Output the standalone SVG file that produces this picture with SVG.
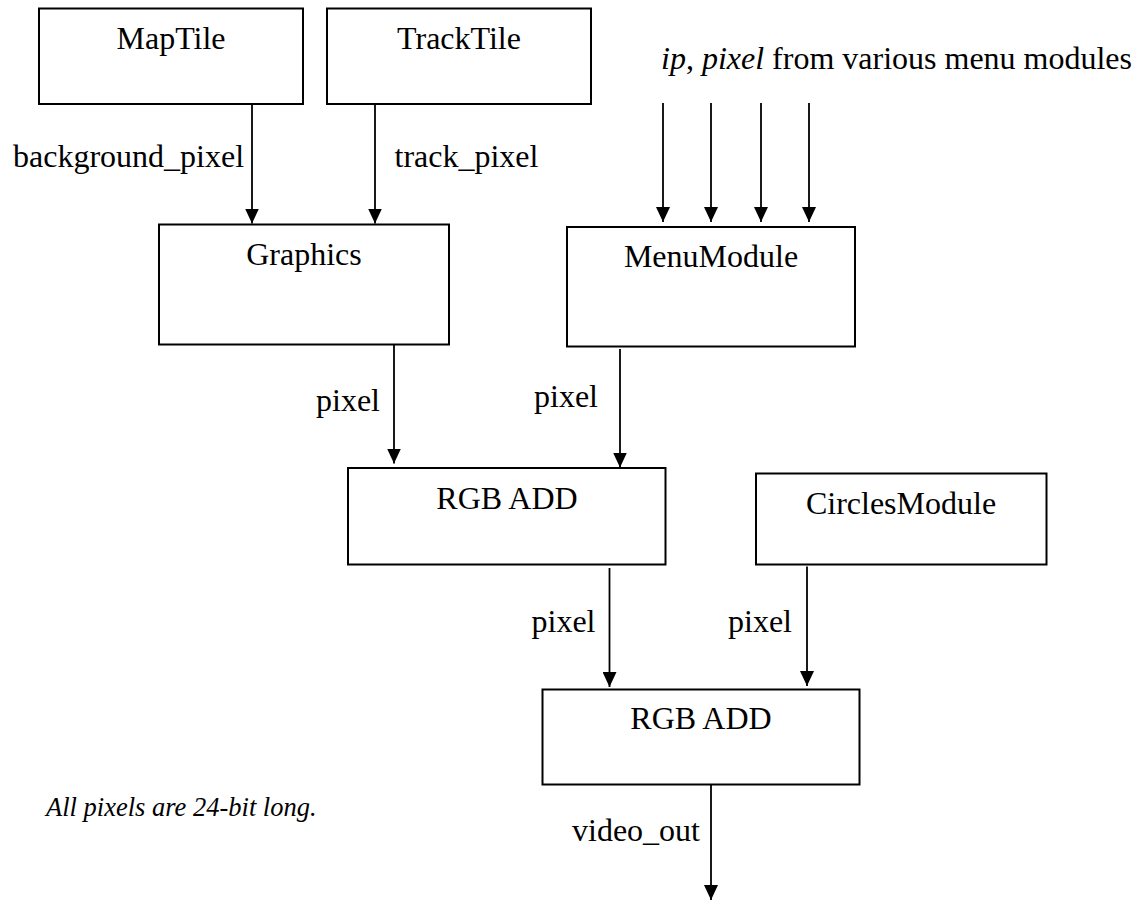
<svg xmlns="http://www.w3.org/2000/svg" width="1136" height="900" viewBox="0 0 1136 900">
<style>
.box{fill:#fff;stroke:#000;stroke-width:2}
.t{font-family:"Liberation Serif","Times New Roman",serif;font-size:32px;fill:#000}
.c{text-anchor:middle}
.it{font-style:italic}
.ln{stroke:#000;stroke-width:1.8;fill:none;marker-end:url(#ah)}
</style>
<defs>
<marker id="ah" markerUnits="userSpaceOnUse" markerWidth="15" markerHeight="14" refX="15" refY="7" orient="auto">
<path d="M0,0 L15,7 L0,14 z" fill="#000"/>
</marker>
</defs>
<rect width="1136" height="900" fill="#fff"/>
<g id="maptile"><rect class="box" x="39" y="8.5" width="264" height="95.5"/><text class="t c" x="171" y="48.5">MapTile</text></g>
<g id="tracktile"><rect class="box" x="327" y="8.5" width="264" height="95.5"/><text class="t c" x="459" y="48.5">TrackTile</text></g>
<g id="graphics"><rect class="box" x="159" y="224.5" width="290" height="120"/><text class="t c" x="304" y="265">Graphics</text></g>
<g id="menumodule"><rect class="box" x="567" y="227" width="288" height="119.5"/><text class="t c" x="711" y="267">MenuModule</text></g>
<g id="rgbadd1"><rect class="box" x="348" y="468" width="317.5" height="96.5"/><text class="t c" x="507" y="508.5">RGB ADD</text></g>
<g id="circlesmodule"><rect class="box" x="756" y="473.5" width="290.5" height="91"/><text class="t c" x="901" y="513.5">CirclesModule</text></g>
<g id="rgbadd2"><rect class="box" x="542.5" y="689.5" width="317" height="95"/><text class="t c" x="701" y="729">RGB ADD</text></g>
<g id="connectors">
<line class="ln" x1="252" y1="104" x2="252" y2="223.5"/>
<line class="ln" x1="375" y1="104" x2="375" y2="223.5"/>
<line class="ln" x1="663" y1="103" x2="663" y2="222"/>
<line class="ln" x1="711" y1="103" x2="711" y2="222"/>
<line class="ln" x1="761" y1="103" x2="761" y2="222"/>
<line class="ln" x1="809" y1="103" x2="809" y2="222"/>
<line class="ln" x1="394" y1="344.5" x2="394" y2="463.5"/>
<line class="ln" x1="620" y1="349" x2="620" y2="467.5"/>
<line class="ln" x1="609.5" y1="568" x2="609.5" y2="687"/>
<line class="ln" x1="807" y1="566.5" x2="807" y2="686"/>
<line class="ln" x1="711" y1="784" x2="711" y2="900"/>
</g>
<g id="labels">
<text class="t" x="13" y="166.5">background_pixel</text>
<text class="t" x="394.5" y="166.5">track_pixel</text>
<text class="t" x="661" y="68.5"><tspan class="it">ip</tspan>, <tspan class="it">pixel</tspan> from various menu modules</text>
<text class="t" x="316" y="410.5">pixel</text>
<text class="t" x="534" y="406.5">pixel</text>
<text class="t" x="531.5" y="631.5">pixel</text>
<text class="t" x="728" y="631.5">pixel</text>
<text class="t" x="572" y="841">video_out</text>
<text class="t it" x="46" y="816" style="font-size:26.5px">All pixels are 24-bit long.</text>
</g>
</svg>
